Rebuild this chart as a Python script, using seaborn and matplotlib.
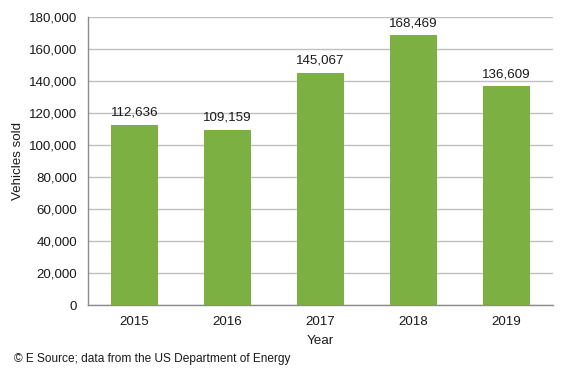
import matplotlib
matplotlib.use("Agg")
import matplotlib.pyplot as plt
import seaborn as sns
import pandas as pd

years = ["2015", "2016", "2017", "2018", "2019"]
sold = [112636, 109159, 145067, 168469, 136609]
yticks = [0, 20000, 40000, 60000, 80000, 100000, 120000, 140000, 160000, 180000]

sns.set_theme(style="white")
plt.rcParams['font.family'] = ['Liberation Sans', 'DejaVu Sans']

df = pd.DataFrame({"Year": years, "Vehicles sold": sold})

fig = plt.figure(figsize=(5.69, 3.74), dpi=100)
ax = fig.add_axes([88/569, 1-305/374, (553-88)/569, (305-17)/374])

sns.barplot(data=df, x="Year", y="Vehicles sold", color="#7cb043", saturation=1,
            width=0.5, ax=ax, zorder=3, linewidth=0)

fs = 9.6
ax.set_ylim(0, 180000)
ax.set_yticks(yticks)
ax.set_yticklabels([f"{v:,}" for v in yticks])
ax.yaxis.grid(True, color="#c0c0c0", linewidth=1, zorder=0)
ax.set_axisbelow(True)
ax.tick_params(axis="y", length=0, labelsize=fs, colors="#1a1a1a", pad=8)
ax.tick_params(axis="x", length=0, labelsize=fs, colors="#1a1a1a", pad=8)
for s in ["top", "right"]:
    ax.spines[s].set_visible(False)
for s in ["left", "bottom"]:
    ax.spines[s].set_color("#8c8c8c")
    ax.spines[s].set_linewidth(1)

for i, v in enumerate(sold):
    ax.text(i, v + 4000, f"{v:,}", ha="center", va="bottom", fontsize=fs, color="#1a1a1a")

ax.set_xlabel("Year", fontsize=fs, color="#1a1a1a", labelpad=5)
ax.set_ylabel("Vehicles sold", fontsize=fs, color="#1a1a1a", labelpad=3)

fig.text(14/569, 1-359/374, "\u00a9 E Source; data from the US Department of Energy",
         fontsize=8.6, color="#1a1a1a", va="center", ha="left")

fig.savefig("out.png", dpi=100)
